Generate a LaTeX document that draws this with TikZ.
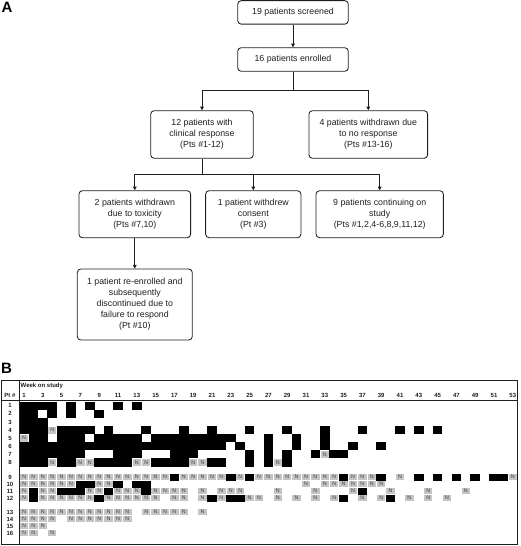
\documentclass[tikz,border=0pt]{standalone}
\usepackage{fontspec}
\setmainfont{Liberation Sans}
\usetikzlibrary{arrows.meta}
\definecolor{ncol}{RGB}{196,196,196}
\definecolor{lnc}{RGB}{30,30,30}
\definecolor{ntc}{RGB}{60,60,60}
\newcommand{\bcells}[3]{\foreach \c in {#3}{\fill[black] ({9.8+\c*9.4},#1) rectangle ++(9.6,#2);}}
\newcommand{\ncells}[4]{\foreach \c in {#4}{\fill[ncol] ({10.4+\c*9.4},{#2+0.5}) rectangle ++(8.4,{#3-1});
  \node[ntext] (N-#1-\c) at ({14.6+\c*9.4},{#2+#3/2}) {N};}}
\begin{document}
\begin{tikzpicture}[x=1pt,y=-1pt,
  box/.style={draw=lnc, line width=0.85pt, rounded corners=3.5pt, align=center, inner sep=0pt,
    font=\fontsize{8.8}{11}\selectfont, text=lnc},
  conn/.style={draw=lnc, line width=0.85pt},
  arr/.style={conn, -{Triangle[length=3.6pt,width=3.6pt]}},
  hdr/.style={font=\fontsize{6}{6}\selectfont\bfseries, inner sep=0pt, text=lnc},
  ntext/.style={font=\fontsize{5.3}{5.5}\selectfont, inner sep=0pt, text=ntc},
  panel/.style={font=\fontsize{15}{15}\selectfont\bfseries, inner sep=0pt, anchor=north west}]
\useasboundingbox (0,0) rectangle (520,546);
% ---------- Panel A ----------
\node[panel] (la) at (1.5,1.5) {A};
\node[box, minimum width=110.6pt, minimum height=23.5pt] (s) at (293,12.4) {19 patients screened};
\node[box, minimum width=110.6pt, minimum height=23.6pt] (e) at (293,59.5) {16 patients enrolled};
\node[box, minimum width=102.6pt, minimum height=47.6pt] (c) at (202,134.5) {12 patients with\\clinical response\\(Pts \#1-12)};
\node[box, minimum width=118.7pt, minimum height=47.6pt] (n) at (368.3,134.5) {4 patients withdrawn due\\to no response\\(Pts \#13-16)};
\node[box, minimum width=111.7pt, minimum height=47pt] (t) at (134.8,214.2) {2 patients withdrawn\\due to toxicity\\(Pts \#7,10)};
\node[box, minimum width=95.3pt, minimum height=47pt] (w) at (253.3,214.2) {1 patient withdrew\\consent\\(Pt \#3)};
\node[box, minimum width=127.3pt, minimum height=47pt] (k) at (379.7,214.2) {9 patients continuing on\\study\\(Pts \#1,2,4-6,8,9,11,12)};
\node[box, minimum width=115pt, minimum height=71pt] (r) at (134.8,304.5) {1 patient re-enrolled and\\subsequently\\discontinued due to\\failure to respond\\(Pt \#10)};
\coordinate (j1) at (293,90.7);
\coordinate (j2) at (202,174);
\draw[arr] (s) -- (e);
\draw[conn] (e) -- (j1);
\draw[arr] (j1) -| (c);
\draw[arr] (j1) -| (n);
\draw[conn] (c) -- (j2);
\draw[arr] (j2) -| (t);
\draw[arr] (j2) -| (w);
\draw[arr] (j2) -| (k);
\draw[arr] (t) -- (r);
% ---------- Panel B ----------
\node[panel] (lb) at (1,363) {B};
% upper rows (height 8.1)
\bcells{401.7}{8.1}{1,2,3,4,6,8,11,13}
\bcells{409.8}{8.1}{1,2,4,6,9}
\bcells{417.9}{8.1}{1,2,3}
\bcells{426.0}{8.1}{1,2,3,5,6,7,8,10,14,18,21,25,29,33,37,41,43,45}
\bcells{434.1}{8.1}{2,3,5,6,7,9,10,11,12,13,15,16,17,18,19,20,21,22,23,27,30,33}
\bcells{442.2}{8.1}{1,...,22,24,27,30,33,36,39}
\bcells{450.3}{8.1}{1,...,7,11,12,13,17,18,19,25,27,29,32,34,35}
\bcells{458.4}{8.1}{1,2,3,5,6,9,10,11,12,15,16,17,18,21,22,25,27,29}
\ncells{4}{426.0}{8.1}{4}
\ncells{5}{434.1}{8.1}{1}
\ncells{7}{450.3}{8.1}{33}
\ncells{8}{458.4}{8.1}{4,7,8,13,14,19,20,28}
% lower rows (height 7)
\bcells{473.5}{7}{17,23,25,35,39,43,45,47,49,51,52}
\ncells{9}{473.5}{7}{1,...,16,18,19,20,21,22,24,26,27,28,29,30,31,32,33,34,36,37,38,41,53}
\bcells{480.5}{7}{7,8,11,13,14}
\ncells{10}{480.5}{7}{1,...,6,9,10,31,33,34,35,36,37,38,39}
\bcells{487.5}{7}{2,5,6,7,10,14,37}
\ncells{11}{487.5}{7}{1,3,4,8,9,11,12,13,15,16,17,18,20,22,23,24,28,32,36,40,44,48}
\bcells{494.5}{7}{2,9,21,23,24,35,40}
\ncells{12}{494.5}{7}{1,3,4,5,6,7,8,10,11,12,13,14,15,17,18,20,22,25,26,28,30,32,34,37,39,42,44,46}
\ncells{13}{508.5}{7}{1,...,12,14,15,16,17,18,20}
\ncells{14}{515.5}{7}{1,2,3,4,6,7,8,9,10,11,12}
\ncells{15}{522.5}{7}{1,2,3}
\ncells{16}{529.5}{7}{1,2,4}
% frame
\draw[lnc, line width=0.9pt] (1,380) rectangle (517.5,544);
\draw[lnc, line width=0.7pt] (1,400.7) -- (517.5,400.7);
\draw[lnc, line width=0.7pt] (19.3,380) -- (19.3,544);
% header texts
\node[hdr, anchor=west] (wk) at (20.5,385.5) {Week on study};
\node[hdr] (pt) at (10,395.5) {Pt \#};
\foreach \q in {1,3,...,53} {\node[hdr] (col\q) at ({14.6+\q*9.4},395.5) {\q};}
\foreach \q in {1,...,8} {\node[hdr] (row\q) at (10,{405.75+(\q-1)*8.1}) {\q};}
\foreach \q in {9,...,12} {\node[hdr] (row\q) at (10,{477+(\q-9)*7}) {\q};}
\foreach \q in {13,...,16} {\node[hdr] (row\q) at (10,{512+(\q-13)*7}) {\q};}
\end{tikzpicture}
\end{document}
